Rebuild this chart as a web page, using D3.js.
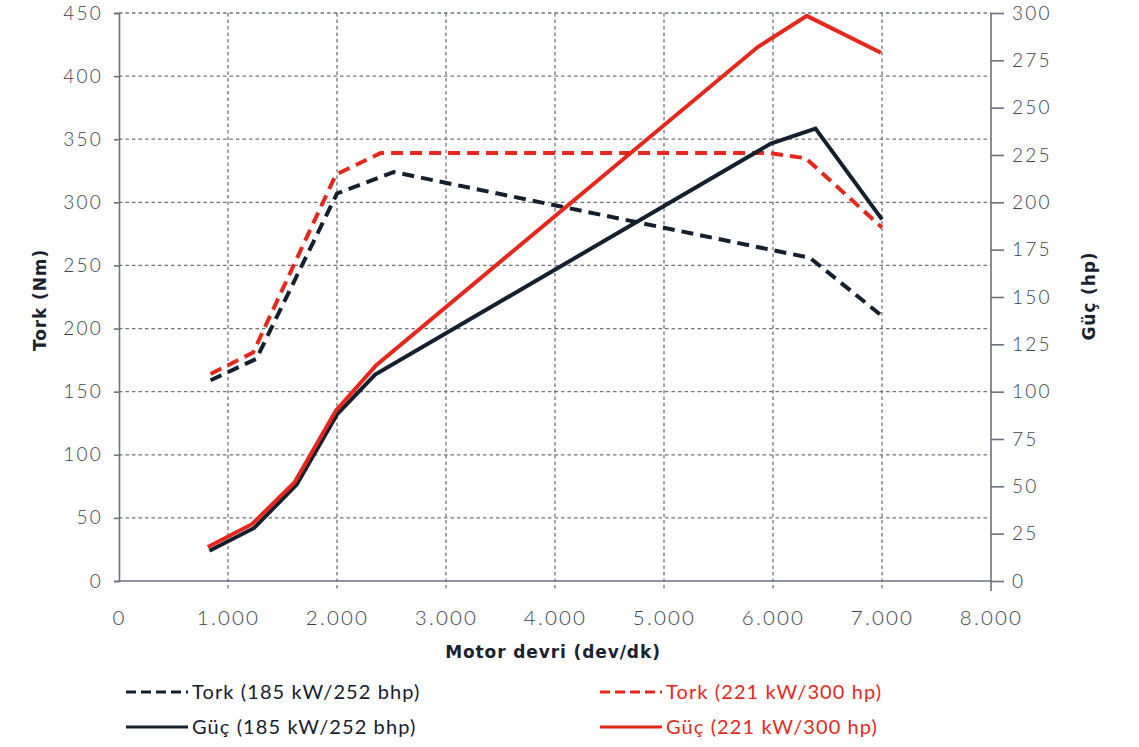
<!DOCTYPE html>
<html><head><meta charset="utf-8">
<script src="https://cdn.jsdelivr.net/npm/d3@7"></script>
<style>
body{margin:0;background:#fff;}
svg{display:block;}
.tick-label{font-family:Lato,"Open Sans",sans-serif;font-weight:300;font-size:19px;fill:#3a4351;letter-spacing:2.2px;}
.xlab{font-size:20.5px;letter-spacing:2.2px;}
.title{font-family:"DejaVu Sans",sans-serif;font-weight:700;font-size:17px;fill:#1a2230;letter-spacing:0.9px;}
.leg{font-family:Lato,"Open Sans",sans-serif;font-weight:400;font-size:20px;letter-spacing:1.1px;}
</style></head>
<body>
<svg id="c" width="1139" height="747"></svg>
<script>
// ---- data ----
const rpmTicks = [0,1000,2000,3000,4000,5000,6000,7000,8000];
const rpmTickLabels = ["0","1.000","2.000","3.000","4.000","5.000","6.000","7.000","8.000"];
const torqueTicks = [0,50,100,150,200,250,300,350,400,450];
const powerTicks = [0,25,50,75,100,125,150,175,200,225,250,275,300];

const torque185Rpm = [840,1260,2000,2520,6340,7000];
const torque185Val = [159,176,307,324,256,210];
const torque221Rpm = [840,1230,1990,2400,5970,6300,7000];
const torque221Val = [164,181,322,339,339,335,280];
const power185Rpm = [830,1240,1630,2000,2350,5980,6390,7000];
const power185Val = [16,28,51,88,109,231,239,191];
const power221Rpm = [815,1220,1610,1990,2360,5860,6310,6990];
const power221Val = [18,30,52,90,114,282,298.5,279];

const legendLabels = ["Tork (185 kW/252 bhp)","Güç (185 kW/252 bhp)","Tork (221 kW/300 hp)","Güç (221 kW/300 hp)"];

const DARK = "#15202e", RED = "#e5281b";
const svg = d3.select("#c");
const x = d3.scaleLinear().domain([0,8000]).range([119,991]);
const yL = d3.scaleLinear().domain([0,450]).range([581,13]);
const yR = d3.scaleLinear().domain([0,300]).range([581,13]);

const grid = svg.append("g");
grid.selectAll("line.h").data(torqueTicks.filter(d=>d>0)).enter().append("line")
 .attr("x1",x(0)).attr("x2",x(8000)).attr("y1",d=>yL(d)).attr("y2",d=>yL(d))
 .attr("stroke","#6e747c").attr("stroke-width",1.3).attr("stroke-dasharray","3.5,3");
grid.selectAll("line.v").data(rpmTicks.filter(d=>d>0&&d<8000)).enter().append("line")
 .attr("x1",d=>x(d)).attr("x2",d=>x(d)).attr("y1",yL(450)).attr("y2",yL(0)+9)
 .attr("stroke","#6e747c").attr("stroke-width",1.3).attr("stroke-dasharray","3.5,3");

const axL = svg.append("g").attr("transform",`translate(${x(0)},0)`)
 .call(d3.axisLeft(yL).tickValues(torqueTicks).tickSize(5).tickPadding(11));
const axR = svg.append("g").attr("transform",`translate(${x(8000)},0)`)
 .call(d3.axisRight(yR).tickValues(powerTicks).tickSize(13).tickPadding(8));
const axB = svg.append("g").attr("transform",`translate(0,${yL(0)})`)
 .call(d3.axisBottom(x).tickValues(rpmTicks).tickFormat((d,i)=>rpmTickLabels[i]).tickSize(0).tickPadding(29));
[axL,axR,axB].forEach(a=>{
  a.select(".domain").attr("stroke","#6b727c").attr("stroke-width",1.6);
  a.selectAll(".tick line").attr("stroke","#6b727c").attr("stroke-width",1.6);
  a.selectAll(".tick text").attr("class","tick-label").attr("font-family",null).attr("font-size",null).attr("fill",null);
});
axB.selectAll(".tick text").classed("xlab",true);
axB.select(".domain").remove();
svg.append("line").attr("x1",x(0)).attr("x2",x(8000)).attr("y1",yL(0)).attr("y2",yL(0)).attr("stroke","#6b727c").attr("stroke-width",1.6);
axR.select(".domain").remove();
svg.append("line").attr("x1",x(8000)).attr("x2",x(8000)).attr("y1",yL(450)).attr("y2",yL(0)+10).attr("stroke","#6b727c").attr("stroke-width",1.6);

const mk = (xs,ys) => xs.map((r,i)=>[r,ys[i]]);
const lineL = d3.line().x(d=>x(d[0])).y(d=>yL(d[1]));
const lineR = d3.line().x(d=>x(d[0])).y(d=>yR(d[1]));
const series = [
 {pts:mk(torque185Rpm,torque185Val),gen:lineL,color:DARK,dash:"12,7"},
 {pts:mk(torque221Rpm,torque221Val),gen:lineL,color:RED,dash:"12,7"},
 {pts:mk(power185Rpm,power185Val),gen:lineR,color:DARK,dash:null},
 {pts:mk(power221Rpm,power221Val),gen:lineR,color:RED,dash:null},
];
series.forEach(s=>{
 svg.append("path").attr("d",s.gen(s.pts)).attr("fill","none").attr("stroke",s.color)
  .attr("stroke-width",4).attr("stroke-dasharray",s.dash).attr("stroke-linejoin","miter");
});

svg.append("text").attr("class","title").attr("transform","translate(46,300) rotate(-90)").attr("text-anchor","middle").text("Tork (Nm)");
svg.append("text").attr("class","title").attr("transform","translate(1095,296) rotate(-90)").attr("text-anchor","middle").text("Güç (hp)");
svg.append("text").attr("class","title").attr("x",553).attr("y",658).attr("text-anchor","middle").text("Motor devri (dev/dk)");

const legItems = [
 {x:126,y:692,color:DARK,dash:"10,5",label:legendLabels[0]},
 {x:126,y:727,color:DARK,dash:null,label:legendLabels[1]},
 {x:600,y:692,color:RED,dash:"10,5",label:legendLabels[2]},
 {x:600,y:727,color:RED,dash:null,label:legendLabels[3]},
];
legItems.forEach(l=>{
 svg.append("line").attr("x1",l.x).attr("x2",l.x+62).attr("y1",l.y).attr("y2",l.y)
  .attr("stroke",l.color).attr("stroke-width",3).attr("stroke-dasharray",l.dash);
 svg.append("text").attr("class","leg").attr("x",l.x+66).attr("y",l.y+7).attr("fill",l.color).text(l.label);
});
</script>
</body></html>
